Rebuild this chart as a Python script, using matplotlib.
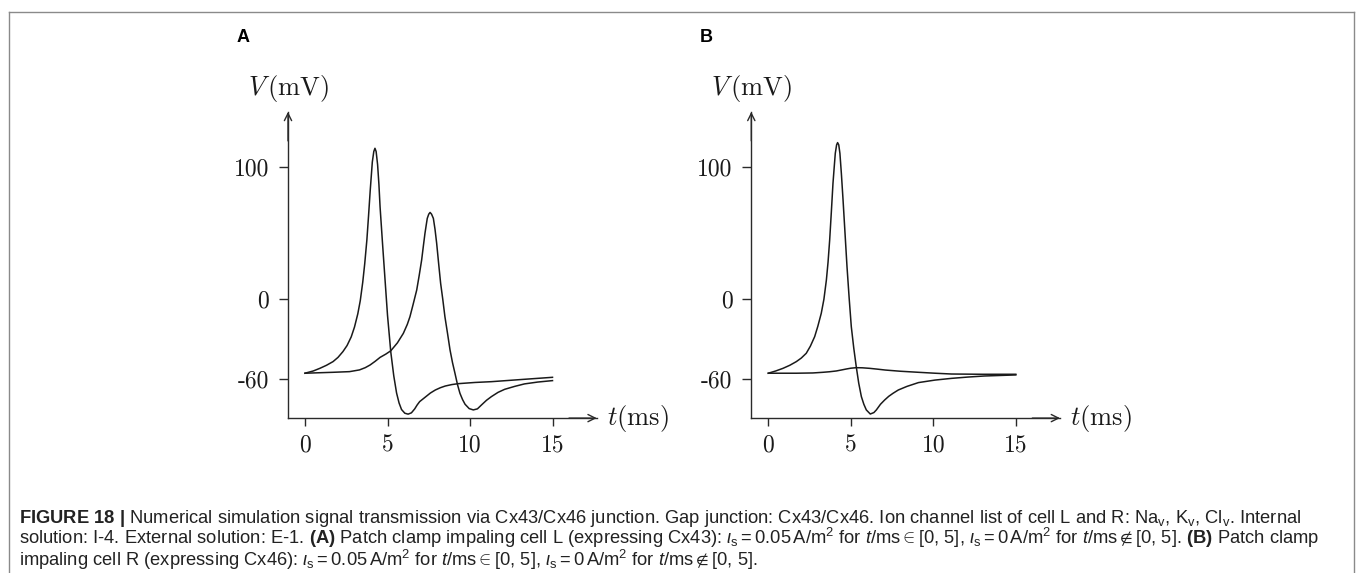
import matplotlib
matplotlib.use("Agg")
import matplotlib.pyplot as plt
from matplotlib.lines import Line2D
from matplotlib import font_manager

# --- traces (t in ms, V in mV) ---
tA_L = [0, 0.5, 0.9, 1.3, 1.7, 2.0, 2.3, 2.55, 2.8, 3.0, 3.2, 3.35, 3.5, 3.62, 3.75, 3.85,
        3.95, 4.08, 4.17, 4.24, 4.31, 4.4, 4.48, 4.55, 4.7, 4.85, 5.0, 5.2, 5.38, 5.55,
        5.7, 5.85, 6.05, 6.25, 6.45, 6.65, 6.8, 6.95, 7.3, 7.6, 7.9, 8.2, 8.5, 8.9, 9.3,
        10.3, 11.3, 13.3, 15]
vA_L = [-56, -54.3, -52.3, -50, -47.2, -44, -39.6, -35, -28.5, -21, -11, -1, 13, 27, 45,
        63, 82, 104, 112, 114.4, 112, 102, 87, 70, 42, 15, -12, -40, -58, -71,
        -78.5, -83.5, -86.3, -87, -86, -83, -80, -77.5, -74, -71, -68.7, -67, -65.7,
        -64.6, -63.9, -63, -62.4, -60.6, -59.1]

tA_R = [0, 1.7, 2.7, 3.3, 3.65, 3.94, 4.25, 4.55, 4.9, 5.2, 5.6, 5.96, 6.2, 6.36, 6.55,
        6.77, 6.92, 7.07, 7.17, 7.27, 7.35, 7.41, 7.5, 7.58, 7.67, 7.78, 7.88, 7.98, 8.1,
        8.22, 8.35, 8.48, 8.64, 8.79, 8.94, 9.09, 9.24, 9.39, 9.55, 9.7, 9.95, 10.2,
        10.45, 10.7, 11.0, 11.3, 11.7, 12.1, 12.7, 13.3, 14.1, 15]
vA_R = [-56, -55.3, -54.8, -53.5, -51.8, -49.8, -47, -44, -41.5, -39, -33, -25.8, -19,
        -13.2, -4, 7, 18, 29.8, 40, 49.9, 56.5, 61.3, 64.5, 65.8, 64.5, 61.3, 53, 42.4,
        27, 12.1, 0, -13.2, -26, -38.4, -48, -56.1, -64.5, -71.2, -76, -79.5, -82.8,
        -83.8, -83, -80, -76.5, -73.7, -70.5, -68.2, -66, -64.1, -62.7, -61.6]

tB_L = [0, 0.45, 0.89, 1.3, 1.7, 2.0, 2.3, 2.55, 2.81, 3.0, 3.21, 3.37, 3.52, 3.62, 3.72,
        3.82, 3.92, 4.0, 4.06, 4.14, 4.2, 4.27, 4.34, 4.43, 4.53, 4.65, 4.77, 4.9, 5.03,
        5.18, 5.33, 5.48, 5.64, 5.79, 5.94, 6.18, 6.4, 6.55, 6.8, 7.05, 7.3, 7.56, 7.88,
        8.4, 9.1, 10.1, 11.1, 12.1, 13.1, 15]
vB_L = [-56, -54.3, -52.3, -50, -47.2, -44.5, -40.9, -35.5, -28.3, -20.5, -10.6, 0, 14.6,
        28, 45, 66, 87.9, 101, 110.6, 117, 118.7, 117, 110.6, 95, 75.3, 50, 24.7, 1,
        -20.7, -37, -51, -63.5, -73.7, -79.5, -83.8, -86.9, -85.8, -83.8, -79.5, -76.3,
        -73.5, -71.2, -68.7, -66, -63.1, -61.2, -59.9, -58.9, -58.1, -57.3]

tB_R = [0, 1.7, 2.7, 3.31, 3.7, 4.12, 4.45, 4.73, 5.0, 5.33, 5.7, 6.14, 6.6, 7.1, 8.0,
        9.1, 10.1, 11.1, 13, 15]
vB_R = [-56, -56, -55.8, -55.3, -54.9, -54.3, -53.5, -52.8, -52.2, -51.8, -51.9, -52.3,
        -52.9, -53.6, -54.5, -55.3, -56, -56.6, -56.8, -56.8]

xticks = [0, 5, 10, 15]
xticklabels = ["0", "5", "10", "15"]
yticks = [100, 0, -60]
yticklabels = ["100", "0", "-60"]

W, H = 1357, 573
plt.rcParams["mathtext.fontset"] = "cm"

names = {f.name for f in font_manager.fontManager.ttflist}
cap_font = "Liberation Sans Narrow" if "Liberation Sans Narrow" in names else "Liberation Sans"
plt.rcParams["mathtext.rm"] = cap_font
plt.rcParams["mathtext.it"] = cap_font + ":italic"
plt.rcParams["mathtext.bf"] = cap_font + ":bold"

fig = plt.figure(figsize=(W / 100, H / 100), dpi=100)

ink = "#1a1a1a"
xlim = (-1.5, 18.5)
ylim = (-95, 150)
px_t, px_v = 16.5, 1.32   # pixels per ms / per mV
y0 = 299.3                # pixel row of V = 0


def panel(t0_px, letter, traces):
    left = t0_px + xlim[0] * px_t
    top = y0 - ylim[1] * px_v
    w = (xlim[1] - xlim[0]) * px_t
    h = (ylim[1] - ylim[0]) * px_v
    ax = fig.add_axes([left / W, 1 - (top + h) / H, w / W, h / H])
    ax.set_xlim(*xlim)
    ax.set_ylim(*ylim)
    ax.patch.set_visible(False)
    for t, v in traces:
        ax.plot(t, v, color=ink, lw=1.1, solid_joinstyle="round")

    ax.spines["top"].set_visible(False)
    ax.spines["right"].set_visible(False)
    ax.spines["left"].set_position(("data", -1.03))
    ax.spines["bottom"].set_position(("data", -90))
    ax.spines["left"].set_bounds(-90, 142)
    ax.spines["bottom"].set_bounds(-1.03, 17.68)
    for s in ("left", "bottom"):
        ax.spines[s].set_color("#2a2a2a")
        ax.spines[s].set_linewidth(1.0)
    arrow = dict(arrowstyle="->", lw=1.0, color="#2a2a2a", shrinkA=0, shrinkB=0,
                 mutation_scale=13)
    ax.annotate("", xy=(17.68, -90), xytext=(16.0, -90), arrowprops=arrow)
    ax.annotate("", xy=(-1.03, 142), xytext=(-1.03, 120), arrowprops=arrow)

    ax.set_xticks(xticks)
    ax.set_xticklabels(xticklabels, fontfamily="cmr10", fontsize=17)
    ax.set_yticks(yticks)
    ax.set_yticklabels(yticklabels, fontfamily="cmr10", fontsize=17)
    ax.tick_params(axis="x", length=6, width=1, pad=6, color="#2a2a2a", labelcolor=ink)
    ax.tick_params(axis="y", length=6.5, width=1, pad=7, color="#2a2a2a", labelcolor=ink)

    ax.text(-1.03, 159.5, r"$V\,(\mathrm{mV})$", fontsize=19, ha="center", va="center",
            color=ink)
    ax.text(18.28, -90, r"$t(\mathrm{ms})$", fontsize=19, ha="left", va="center", color=ink)

    fig.text((t0_px - 62) / W, 1 - 38 / H, letter, fontsize=13, fontweight="bold",
             family="Liberation Sans", ha="center", va="center")
    return ax


panel(305, "A", [(tA_L, vA_L), (tA_R, vA_R)])
panel(768.3, "B", [(tB_L, vB_L), (tB_R, vB_R)])

# --- frame ---
frame = dict(color="#8a8a8a", lw=1.0, transform=fig.transFigure)
fig.add_artist(Line2D([8.5 / W, 8.5 / W], [0, 1 - 12 / H], **frame))
fig.add_artist(Line2D([8.5 / W, 1354 / W], [1 - 12 / H, 1 - 12 / H], **frame))
fig.add_artist(Line2D([1354 / W, 1354 / W], [0, 1 - 12 / H], **frame))

# --- caption ---
cap = [
    r"$\mathbf{FIGURE\ 18\ |}$ Numerical simulation signal transmission via Cx43/Cx46 junction. "
    r"Gap junction: Cx43/Cx46. Ion channel list of cell L and R: Na$_\mathrm{v}$, "
    r"K$_\mathrm{v}$, Cl$_\mathrm{v}$. Internal",
    r"solution: I-4. External solution: E-1. $\mathbf{(A)}$ Patch clamp impaling cell L "
    r"(expressing Cx43): $\iota_\mathrm{s} = 0.05\,\mathrm{A/m^2}$ for $t$/ms$\in$[0, 5], "
    r"$\iota_\mathrm{s} = 0\,\mathrm{A/m^2}$ for $t$/ms$\notin$[0, 5]. $\mathbf{(B)}$ Patch clamp",
    r"impaling cell R (expressing Cx46): $\iota_\mathrm{s} = 0.05\,\mathrm{A/m^2}$ for "
    r"$t$/ms$\in$[0, 5], $\iota_\mathrm{s} = 0\,\mathrm{A/m^2}$ for $t$/ms$\notin$[0, 5].",
]
for i, line in enumerate(cap):
    fig.text(19 / W, 1 - (523 + 21.5 * i) / H, line, fontsize=13.25,
             family=[cap_font, "DejaVu Sans"], math_fontfamily="custom",
             color="#222222", ha="left", va="baseline")

fig.savefig("out.png", dpi=100)
